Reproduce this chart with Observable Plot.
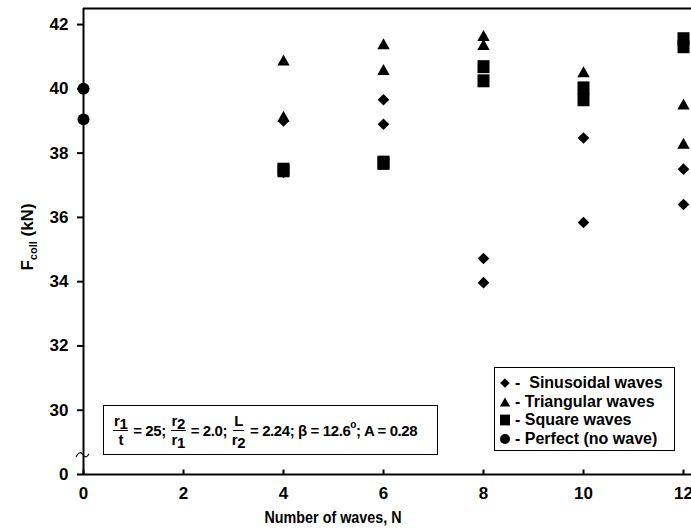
<!DOCTYPE html>
<html>
<head>
<meta charset="utf-8">
<script src="https://cdn.jsdelivr.net/npm/d3@7"></script>
<script src="https://cdn.jsdelivr.net/npm/@observablehq/plot@0.6"></script>
<style>
  body { margin: 0; background: #fff; }
  #chart { position: relative; width: 691px; height: 531px; overflow: hidden;
           font-family: "Liberation Sans", Arial, sans-serif; color: #000; }
  #chart > svg { position: absolute; left: 0; top: 0; }
  .box { position: absolute; border: 1.5px solid #000; background: #fff; box-sizing: border-box; }
  #params { left: 103px; top: 405px; width: 335px; height: 50px;
            display: flex; align-items: center; padding-left: 8px;
            font-weight: bold; font-size: 15px; letter-spacing: -0.4px; white-space: pre; }
  .frac { display: inline-flex; flex-direction: column; align-items: center;
          line-height: 1; font-size: 15px; margin: 0 1px; }
  .frac .num { border-bottom: 1.5px solid #000; padding: 0 1px 2px; }
  .frac .den { padding-top: 1px; }
  .lo { position: relative; top: 3px; }
  .deg { position: relative; top: -6px; font-size: 10px; }
  #legend { left: 494px; top: 367px; width: 181px; height: 84px; padding: 6px 0 0 4px;
            font-weight: bold; font-size: 16px; }
  .row { display: flex; align-items: center; height: 18.5px; white-space: pre; }
  .row svg { margin-right: 4px; flex: none; }
</style>
</head>
<body>
<div id="chart"></div>
<script>
// Collapse force F_coll (kN) against the number of waves N, per wave profile
const sinusoidalN = [4, 4, 6, 6, 8, 8, 10, 10, 12, 12];
const sinusoidalF = [39.0, 37.4, 39.66, 38.9, 34.72, 33.97, 38.47, 35.84, 37.5, 36.4];
const triangularN = [4, 4, 6, 6, 8, 8, 10, 12, 12];
const triangularF = [40.9, 39.15, 41.4, 40.6, 41.66, 41.38, 40.53, 39.53, 38.31];
const squareN = [4, 4, 6, 6, 8, 8, 10, 10, 12, 12];
const squareF = [37.5, 37.45, 37.72, 37.68, 40.69, 40.25, 40.03, 39.66, 41.56, 41.31];
const perfectN = [0, 0];
const perfectF = [40.0, 39.05];

const seriesNames = ["Sinusoidal waves", "Triangular waves", "Square waves", "Perfect (no wave)"];
const xTicks = [0, 2, 4, 6, 8, 10, 12];
// broken axis: the lowest tick stands for zero
const yTicks = [28, 30, 32, 34, 36, 38, 40, 42];
const yTickLabels = ["0", "30", "32", "34", "36", "38", "40", "42"];

// marker shapes, drawn around the origin with s = r
const shapes = {
  diamond: { draw(ctx, size) { const s = Math.sqrt(size / Math.PI), h = 0.97 * s;
    ctx.moveTo(0, -h); ctx.lineTo(h, 0); ctx.lineTo(0, h); ctx.lineTo(-h, 0); ctx.closePath(); } },
  triangle: { draw(ctx, size) { const s = Math.sqrt(size / Math.PI), w = 1.03 * s, h = 0.92 * s;
    ctx.moveTo(0, -h); ctx.lineTo(w, h); ctx.lineTo(-w, h); ctx.closePath(); } },
  square: { draw(ctx, size) { const s = Math.sqrt(size / Math.PI), w = 1.0 * s, h = 1.08 * s;
    ctx.moveTo(-w, -h); ctx.lineTo(w, -h); ctx.lineTo(w, h); ctx.lineTo(-w, h); ctx.closePath(); } },
  circle: { draw(ctx, size) { const s = Math.sqrt(size / Math.PI);
    ctx.moveTo(s, 0); ctx.arc(0, 0, s, 0, 2 * Math.PI); } }
};

const series = [
  { name: seriesNames[0], shape: shapes.diamond, N: sinusoidalN, F: sinusoidalF },
  { name: seriesNames[1], shape: shapes.triangle, N: triangularN, F: triangularF },
  { name: seriesNames[2], shape: shapes.square, N: squareN, F: squareF },
  { name: seriesNames[3], shape: shapes.circle, N: perfectN, F: perfectF }
];

const xDomain = [0, 12.16];
const yDomain = [28, 42.5];

const chart = Plot.plot({
  width: 691,
  height: 531,
  marginLeft: 83,
  marginRight: 0,
  marginTop: 8,
  marginBottom: 57,
  x: { domain: xDomain },
  y: { domain: yDomain },
  style: { fontFamily: "'Liberation Sans', Arial, sans-serif", fontSize: "17px", fontWeight: "bold",
           color: "#000", background: "transparent", overflow: "visible" },
  marks: [
    Plot.axisY({ ticks: yTicks, tickFormat: d => yTickLabels[yTicks.indexOf(d)], tickSize: 6,
                 tickPadding: 9, strokeWidth: 2, label: null }),
    Plot.axisX({ ticks: xTicks, tickSize: 0, tickPadding: 12, label: null }),
    Plot.vector(xTicks, { x: d => d, frameAnchor: "bottom", length: 5, anchor: "start", rotate: 0,
      stroke: "#000", strokeWidth: 2, strokeLinecap: "butt",
      shape: { draw(ctx, l) { ctx.moveTo(0, 0); ctx.lineTo(0, -l); } } }),
    Plot.ruleX([xDomain[0]], { stroke: "#000", strokeWidth: 2 }),
    Plot.ruleY([yDomain[0]], { stroke: "#000", strokeWidth: 2 }),
    Plot.ruleY([yDomain[1]], { stroke: "#000", strokeWidth: 2 }),
    ...series.map(s => Plot.dot(s.N.map((n, i) => ({ N: n, F: s.F[i] })), {
      x: "N", y: "F", symbol: s.shape, r: 6, fill: "#000", stroke: "none"
    }))
  ]
});

const host = document.getElementById("chart");
host.appendChild(chart);

const svg = d3.select(chart);
const xs = chart.scale("x"), ys = chart.scale("y");

// axis break mark just above the zero tick
svg.append("path")
  .attr("transform", `translate(${xs.apply(0)},${ys.apply(28.6)})`)
  .attr("d", "M-7,2 C-4,-3 -2,-3 0,0 S4,3 6,-1")
  .attr("fill", "none").attr("stroke", "#000").attr("stroke-width", 1.2);

// axis titles (condensed to the narrow face of the original)
const yLabel = svg.append("text")
  .attr("transform", "translate(33,237) rotate(-90)")
  .attr("text-anchor", "middle")
  .style("font-size", "17px").style("font-weight", "bold");
yLabel.append("tspan").text("F");
yLabel.append("tspan").attr("dy", 4).style("font-size", "11px").text("coll");
yLabel.append("tspan").attr("dy", -4).text(" (kN)");

svg.append("text")
  .attr("x", 333).attr("y", 523)
  .attr("text-anchor", "middle")
  .attr("textLength", 137).attr("lengthAdjust", "spacingAndGlyphs")
  .style("font-size", "17px").style("font-weight", "bold")
  .text("Number of waves, N");

// geometry parameters box
const params = document.createElement("div");
params.className = "box";
params.id = "params";
params.innerHTML =
  '<span class="frac"><span class="num">r<span class="lo">1</span></span><span class="den">t</span></span> = 25; ' +
  '<span class="frac"><span class="num">r<span class="lo">2</span></span><span class="den">r<span class="lo">1</span></span></span> = 2.0; ' +
  '<span class="frac"><span class="num">L</span><span class="den">r<span class="lo">2</span></span></span> = 2.24; ' +
  'β = 12.6<span class="deg">o</span>; A = 0.28';
host.appendChild(params);

// legend
const legend = document.createElement("div");
legend.className = "box";
legend.id = "legend";
series.forEach((s, i) => {
  const row = document.createElement("div");
  row.className = "row";
  const icon = d3.create("svg").attr("width", 12).attr("height", 12);
  const p = d3.path();
  s.shape.draw(p, Math.PI * 25);
  icon.append("path").attr("transform", "translate(6,6)").attr("d", p.toString()).attr("fill", "#000");
  row.appendChild(icon.node());
  row.appendChild(document.createTextNode((i === 0 ? "-  " : "- ") + s.name));
  legend.appendChild(row);
});
host.appendChild(legend);
</script>
</body>
</html>
